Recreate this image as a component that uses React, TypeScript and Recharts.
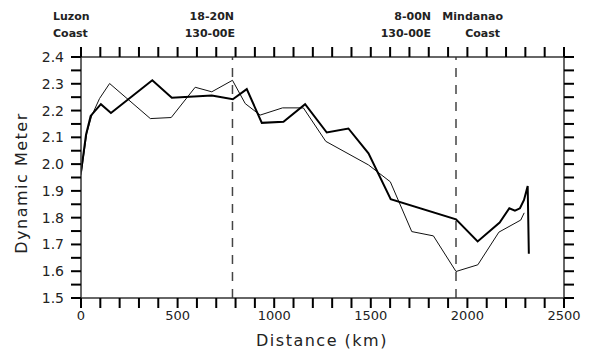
import {
  LineChart,
  Line,
  XAxis,
  YAxis,
  ReferenceLine,
} from 'recharts';

// distance along the section (km) and dynamic height (dyn. m), two surveys
const thickKm = [0, 26, 50, 103, 155, 369, 470, 677, 786, 858, 936, 1048, 1160, 1272, 1384, 1488, 1603, 1941, 2053, 2167, 2217, 2246, 2272, 2293, 2312, 2318];
const thickDm = [1.97, 2.11, 2.18, 2.224, 2.191, 2.313, 2.248, 2.256, 2.242, 2.28, 2.154, 2.158, 2.224, 2.118, 2.133, 2.04, 1.869, 1.794, 1.711, 1.782, 1.835, 1.826, 1.835, 1.866, 1.918, 1.665];

const thinKm = [0, 30, 55, 96, 148, 359, 467, 591, 677, 784, 850, 927, 1043, 1151, 1267, 1488, 1601, 1712, 1824, 1941, 2054, 2163, 2276, 2294];
const thinDm = [1.96, 2.115, 2.18, 2.245, 2.301, 2.17, 2.174, 2.287, 2.27, 2.313, 2.226, 2.183, 2.21, 2.21, 2.085, 1.997, 1.934, 1.748, 1.732, 1.599, 1.624, 1.746, 1.791, 1.818];

const stationKm = [784, 1941];

const xTicks = [0, 100, 200, 300, 400, 500, 600, 700, 800, 900, 1000, 1100, 1200, 1300, 1400, 1500, 1600, 1700, 1800, 1900, 2000, 2100, 2200, 2300, 2400, 2500];
const xLabels = [0, 500, 1000, 1500, 2000, 2500];
const yTicks = [1.5, 1.55, 1.6, 1.65, 1.7, 1.75, 1.8, 1.85, 1.9, 1.95, 2.0, 2.05, 2.1, 2.15, 2.2, 2.25, 2.3, 2.35, 2.4];
const yLabels = [1.5, 1.6, 1.7, 1.8, 1.9, 2.0, 2.1, 2.2, 2.3, 2.4];

const thick = thickKm.map((km, i) => ({ km, dm: thickDm[i] }));
const thin = thinKm.map((km, i) => ({ km, dm: thinDm[i] }));

const FONT = '"DejaVu Sans", sans-serif';
const INK = '#222';
const TICK = 10;
const GAP = 3;

// chart box: 590x360, left axis 81 wide, right 26, top 57, bottom 62
const W = 590;
const H = 360;
const LEFT = 81;
const RIGHT = W - 26;
const TOP = 57;
const BOTTOM = H - 62;
const X_DOMAIN = [0, 2500];
const Y_DOMAIN = [1.5, 2.4];
const px = (km: number) => LEFT + ((km - X_DOMAIN[0]) / (X_DOMAIN[1] - X_DOMAIN[0])) * (RIGHT - LEFT);
const py = (v: number) => BOTTOM - ((v - Y_DOMAIN[0]) / (Y_DOMAIN[1] - Y_DOMAIN[0])) * (BOTTOM - TOP);

function XTick({ x, y, payload }: any) {
  if (!xLabels.includes(payload.value)) return <g />;
  return (
    <text x={x} y={y} dy="0.72em" textAnchor="middle" fontSize={13} fontFamily={FONT} fill={INK}>
      {payload.value}
    </text>
  );
}

function YTick({ x, y, payload }: any) {
  const hit = yLabels.find((v) => Math.abs(v - payload.value) < 1e-6);
  if (hit === undefined) return <g />;
  return (
    <text x={x - 4} y={y} dy="0.36em" textAnchor="end" fontSize={14} fontFamily={FONT} fill={INK}>
      {hit.toFixed(1)}
    </text>
  );
}

const noTick = () => <g />;
const axisLine = { stroke: '#333', strokeWidth: 1.5 };

export default function App() {
  return (
    <div style={{ position: 'absolute', left: 0, top: 0, width: W, height: H, background: '#fff' }}>
      <LineChart width={W} height={H} margin={{ top: 0, right: 0, bottom: 0, left: 0 }}>
        <XAxis
          dataKey="km"
          type="number"
          domain={X_DOMAIN}
          ticks={xTicks}
          interval={0}
          allowDataOverflow
          height={62}
          tickSize={TICK}
          tickMargin={GAP}
          axisLine={axisLine}
          tickLine={false}
          tick={<XTick />}
        />
        <XAxis
          xAxisId="top"
          orientation="top"
          dataKey="km"
          type="number"
          domain={X_DOMAIN}
          ticks={xTicks}
          interval={0}
          height={57}
          axisLine={axisLine}
          tickLine={false}
          tick={noTick}
        />
        <YAxis
          type="number"
          domain={Y_DOMAIN}
          ticks={yTicks}
          interval={0}
          allowDataOverflow
          width={81}
          tickSize={TICK}
          tickMargin={GAP}
          axisLine={axisLine}
          tickLine={false}
          tick={<YTick />}
        />
        <YAxis
          yAxisId="right"
          orientation="right"
          type="number"
          domain={Y_DOMAIN}
          ticks={yTicks}
          interval={0}
          width={26}
          axisLine={axisLine}
          tickLine={false}
          tick={noTick}
        />
        {stationKm.map((km) => (
          <ReferenceLine key={km} x={km} stroke="#444" strokeWidth={1.5} strokeDasharray="9 8" />
        ))}
        <Line
          data={thin}
          dataKey="dm"
          stroke="#111"
          strokeWidth={1}
          dot={false}
          isAnimationActive={false}
        />
        <Line
          data={thick}
          dataKey="dm"
          stroke="#000"
          strokeWidth={2}
          dot={false}
          isAnimationActive={false}
        />
      </LineChart>
      <svg
        width={W}
        height={H}
        style={{ position: 'absolute', left: 0, top: 0, pointerEvents: 'none' }}
        fontFamily={FONT}
        fill={INK}
      >
        <g stroke="#000" strokeWidth={2}>
          {xTicks.map((t) => (
            <g key={`x${t}`}>
              <line x1={px(t)} x2={px(t)} y1={BOTTOM} y2={BOTTOM + TICK} />
              <line x1={px(t)} x2={px(t)} y1={TOP} y2={TOP - TICK} />
            </g>
          ))}
          {yTicks.map((t) => (
            <g key={`y${t}`}>
              <line x1={LEFT} x2={LEFT - TICK} y1={py(t)} y2={py(t)} />
              <line x1={RIGHT} x2={RIGHT + TICK} y1={py(t)} y2={py(t)} />
            </g>
          ))}
        </g>
        <g fontSize={11} fontWeight="bold">
          <text x={53} y={20}>Luzon</text>
          <text x={53} y={37}>Coast</text>
          <text x={234} y={20} textAnchor="end">18-20N</text>
          <text x={235} y={37} textAnchor="end">130-00E</text>
          <text x={431} y={20} textAnchor="end">8-00N</text>
          <text x={431} y={37} textAnchor="end">130-00E</text>
          <text x={503} y={20} textAnchor="end">Mindanao</text>
          <text x={500} y={37} textAnchor="end">Coast</text>
        </g>
        <text x={322} y={346} textAnchor="middle" fontSize={16} letterSpacing={1.5}>
          Distance (km)
        </text>
        <text
          x={0}
          y={0}
          transform="translate(27 183) rotate(-90)"
          textAnchor="middle"
          fontSize={16}
          letterSpacing={1.5}
        >
          Dynamic Meter
        </text>
      </svg>
    </div>
  );
}
